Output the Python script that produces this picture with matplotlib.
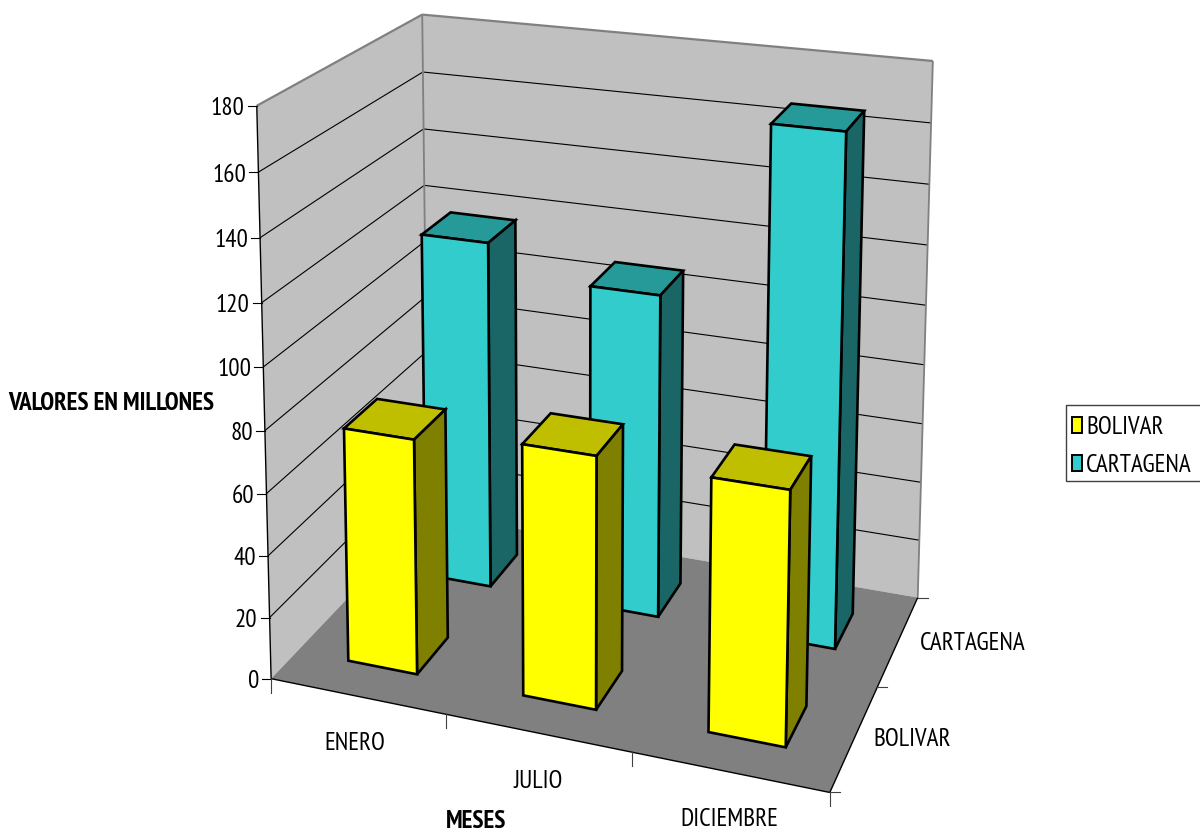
import numpy as np
import matplotlib
matplotlib.use('Agg')
import matplotlib.pyplot as plt
from matplotlib.patches import Rectangle

plt.rcParams['font.family'] = ['PT Sans Narrow', 'Liberation Sans']

# data
MESES = ['ENERO', 'JULIO', 'DICIEMBRE']
SERIES = ['BOLIVAR', 'CARTAGENA']
BOLIVAR = [76, 80, 79]
CARTAGENA = [118, 108, 167]
Z_TICKS = list(range(0, 181, 20))

# colores: frente, tapa, lado
YELLOW = ('#FFFF00', '#BFBF00', '#808000')
CYAN = ('#33CCCC', '#269999', '#1A6666')
WALL = '#C0C0C0'
FLOOR = '#808080'
TEXT_SIZE = 18

# camera fitted on the plot box corners: (cat, serie, valor) -> pixel
BOX = [(0, 0, 180, 256, 105.3), (0, 2, 180, 423, 15), (3, 2, 180, 932.7, 61),
       (0, 0, 0, 272.3, 679.3), (3, 0, 0, 829.3, 792.3), (3, 2, 0, 918.3, 597.7),
       (0, 2, 0, 427, 513)]
rows = []
for X, Y, Z, u, v in BOX:
    Z = Z / 60
    rows.append([X, Y, Z, 1, 0, 0, 0, 0, -u * X, -u * Y, -u * Z, -u])
    rows.append([0, 0, 0, 0, X, Y, Z, 1, -v * X, -v * Y, -v * Z, -v])
CAM = np.linalg.svd(np.array(rows, float))[2][-1].reshape(3, 4)


def proj(x, y, z):
    h = CAM @ np.array([x, y, z / 60, 1.0])
    return h[0] / h[2], h[1] / h[2]


def face(ax, corners, color, lw=0.0, edge='black', z=1):
    pts = np.array([proj(*c) for c in corners])
    ax.fill(pts[:, 0], pts[:, 1], facecolor=color, edgecolor=edge if lw else 'none',
            linewidth=lw, joinstyle='miter', zorder=z)


def line(ax, a, b, color='black', lw=0.8, z=2):
    pa, pb = proj(*a), proj(*b)
    ax.plot([pa[0], pb[0]], [pa[1], pb[1]], color=color, lw=lw, zorder=z,
            solid_capstyle='butt')


def bar3d(ax, x0, y0, val, cols, z):
    x1, y1 = x0 + 0.4, y0 + 0.4
    face(ax, [(x0, y0, val), (x1, y0, val), (x1, y1, val), (x0, y1, val)], cols[1], 1.9, z=z)
    face(ax, [(x1, y0, 0), (x1, y1, 0), (x1, y1, val), (x1, y0, val)], cols[2], 1.9, z=z)
    face(ax, [(x0, y0, 0), (x1, y0, 0), (x1, y0, val), (x0, y0, val)], cols[0], 1.9, z=z)


fig = plt.figure(figsize=(12, 8.35), dpi=100)
ax = fig.add_axes([0, 0, 1, 1])
ax.set_xlim(0, 1200)
ax.set_ylim(835, 0)
ax.axis('off')

# paredes y piso
face(ax, [(0, 0, 0), (0, 2, 0), (0, 2, 180), (0, 0, 180)], WALL)
face(ax, [(0, 2, 0), (3, 2, 0), (3, 2, 180), (0, 2, 180)], WALL)
face(ax, [(0, 0, 0), (3, 0, 0), (3, 2, 0), (0, 2, 0)], FLOOR)

# rejilla
for val in Z_TICKS[1:-1]:
    line(ax, (0, 0, val), (0, 2, val))
    line(ax, (0, 2, val), (3, 2, val))

# bordes de las paredes
line(ax, (0, 0, 180), (0, 2, 180), color='#808080', lw=1.6)
line(ax, (0, 2, 180), (3, 2, 180), color='#808080', lw=1.6)
line(ax, (0, 2, 180), (0, 2, 0), color='#808080', lw=1.3)
line(ax, (3, 2, 180), (3, 2, 0), color='#808080', lw=1.3)

# ejes
line(ax, (0, 0, 180), (0, 0, 0), lw=1.0)
line(ax, (0, 0, 0), (3, 0, 0), lw=1.0)
line(ax, (3, 0, 0), (3, 2, 0), lw=1.0)

for val in Z_TICKS:
    px, py = proj(0, 0, val)
    ax.plot([px - 9, px], [py, py], color='black', lw=0.8, zorder=2)
    ax.text(px - 12, py + 3, str(val), ha='right', va='center', fontsize=TEXT_SIZE)
for i in range(4):
    px, py = proj(i, 0, 0)
    ax.plot([px, px], [py, py + 14], color='#404040', lw=0.8, zorder=2)
for j in range(3):
    px, py = proj(3, j, 0)
    ax.plot([px, px + 10], [py, py], color='#404040', lw=0.8, zorder=2)

# barras: primero la fila de atras
for i, val in enumerate(CARTAGENA):
    bar3d(ax, i + 0.3, 1.3, val, CYAN, 3 + i)
for i, val in enumerate(BOLIVAR):
    bar3d(ax, i + 0.3, 0.3, val, YELLOW, 7 + i)

# etiquetas
for name, (tx, ty) in zip(MESES, [(355, 744), (538, 781), (729, 820)]):
    ax.text(tx, ty, name, ha='center', va='center', fontsize=TEXT_SIZE)
for name, (tx, ty) in zip(SERIES, [(912, 740), (973, 643)]):
    ax.text(tx, ty, name, ha='center', va='center', fontsize=TEXT_SIZE)
ax.text(476, 822, 'MESES', ha='center', va='center', fontsize=TEXT_SIZE, fontweight='bold')
ax.text(214, 403, 'VALORES EN MILLONES', ha='right', va='center', fontsize=TEXT_SIZE,
        fontweight='bold')

# leyenda
ax.add_patch(Rectangle((1065.7, 404.7), 150, 76.3, facecolor='white', edgecolor='#404040',
                       lw=1.0, zorder=2, clip_on=True))
for name, cols, top in zip(SERIES, [YELLOW, CYAN], [417, 455]):
    ax.add_patch(Rectangle((1072, top), 10, 15.5, facecolor=cols[0], edgecolor='black',
                           lw=1.4, zorder=3))
    ax.text(1086, top + 10, name, ha='left', va='center', fontsize=TEXT_SIZE, zorder=3)

fig.savefig('out.png', dpi=100, facecolor='white')
